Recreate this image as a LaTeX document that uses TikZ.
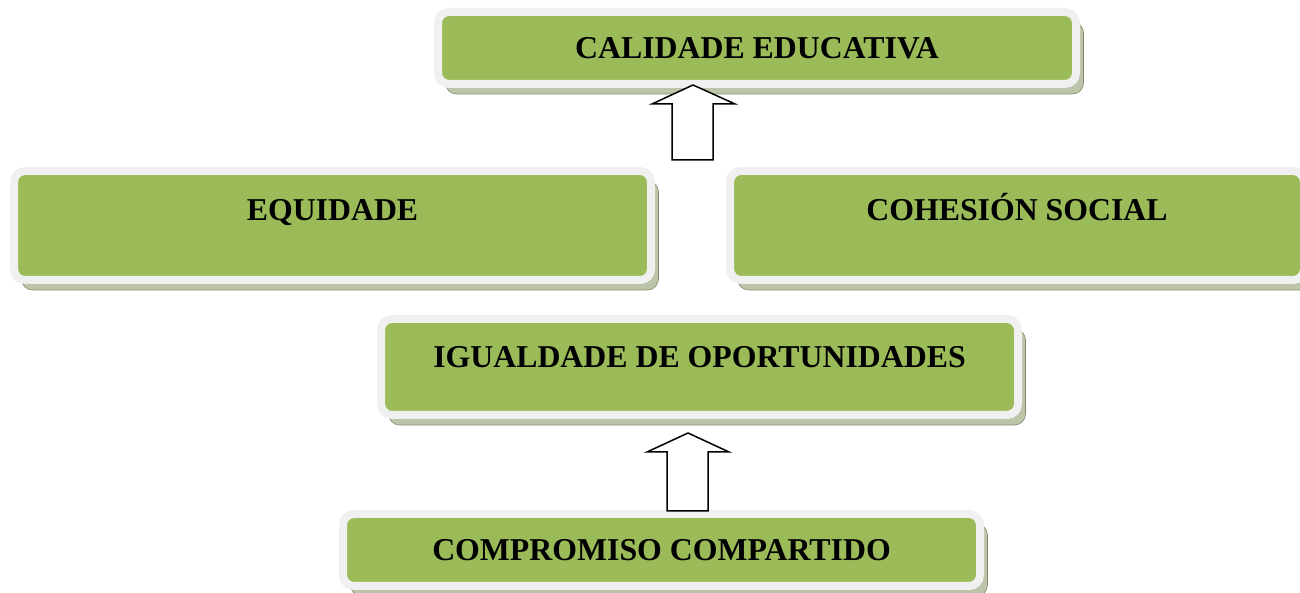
\documentclass[tikz,border=0pt]{standalone}
\usepackage{fontspec}
\setmainfont{Liberation Serif}
\usetikzlibrary{shadows}
\definecolor{boxgreen}{HTML}{9BBB59}
\definecolor{boxrim}{HTML}{F0F0F0}
\definecolor{shadowc}{HTML}{BCC5A9}
\definecolor{shadowline}{HTML}{7E8A68}
\tikzset{
  gbox/.style={rectangle, rounded corners=11pt, fill=boxgreen, draw=boxrim, line width=8pt,
    text height=21pt, text depth=0pt, inner sep=0pt,
    font=\fontsize{31.8}{38}\selectfont\bfseries,
    drop shadow={shadow xshift=7.5pt, shadow yshift=-10pt, fill=shadowc, draw=shadowline, line width=0.6pt, opacity=1}},
  bigarrow/.style={draw=black, fill=white, line width=1.5pt, line join=miter}
}
\begin{document}
\begin{tikzpicture}[x=1pt,y=1pt]
\useasboundingbox (0,0) rectangle (1300,593);
% boxes
\node[gbox, minimum width=638pt, minimum height=72pt] (cal) at (757,545) {CALIDADE EDUCATIVA};
\node[gbox, minimum width=637pt, minimum height=109pt, text depth=31pt] (equ) at (332.5,367.5) {EQUIDADE};
\node[gbox, minimum width=574pt, minimum height=109pt, text depth=31pt] (coh) at (1017,367.5) {COHESIÓN SOCIAL};
\node[gbox, minimum width=637pt, minimum height=96pt, text depth=20pt] (igu) at (699.5,226) {IGUALDADE DE OPORTUNIDADES};
\node[gbox, minimum width=637pt, minimum height=72pt] (com) at (661.5,43) {COMPROMISO COMPARTIDO};
% arrows (on top of the boxes' rims)
\coordinate (tip1) at (693,508);
\coordinate (tip2) at (688,160);
\draw[bigarrow] (tip1) -- ++(42,-19) -- ++(-22,0) -- ++(0,-56) -- ++(-41,0) -- ++(0,56) -- ++(-20,0) -- cycle;
\draw[bigarrow] (tip2) -- ++(41,-19) -- ++(-21,0) -- ++(0,-59) -- ++(-41,0) -- ++(0,59) -- ++(-20,0) -- cycle;
\end{tikzpicture}
\end{document}
